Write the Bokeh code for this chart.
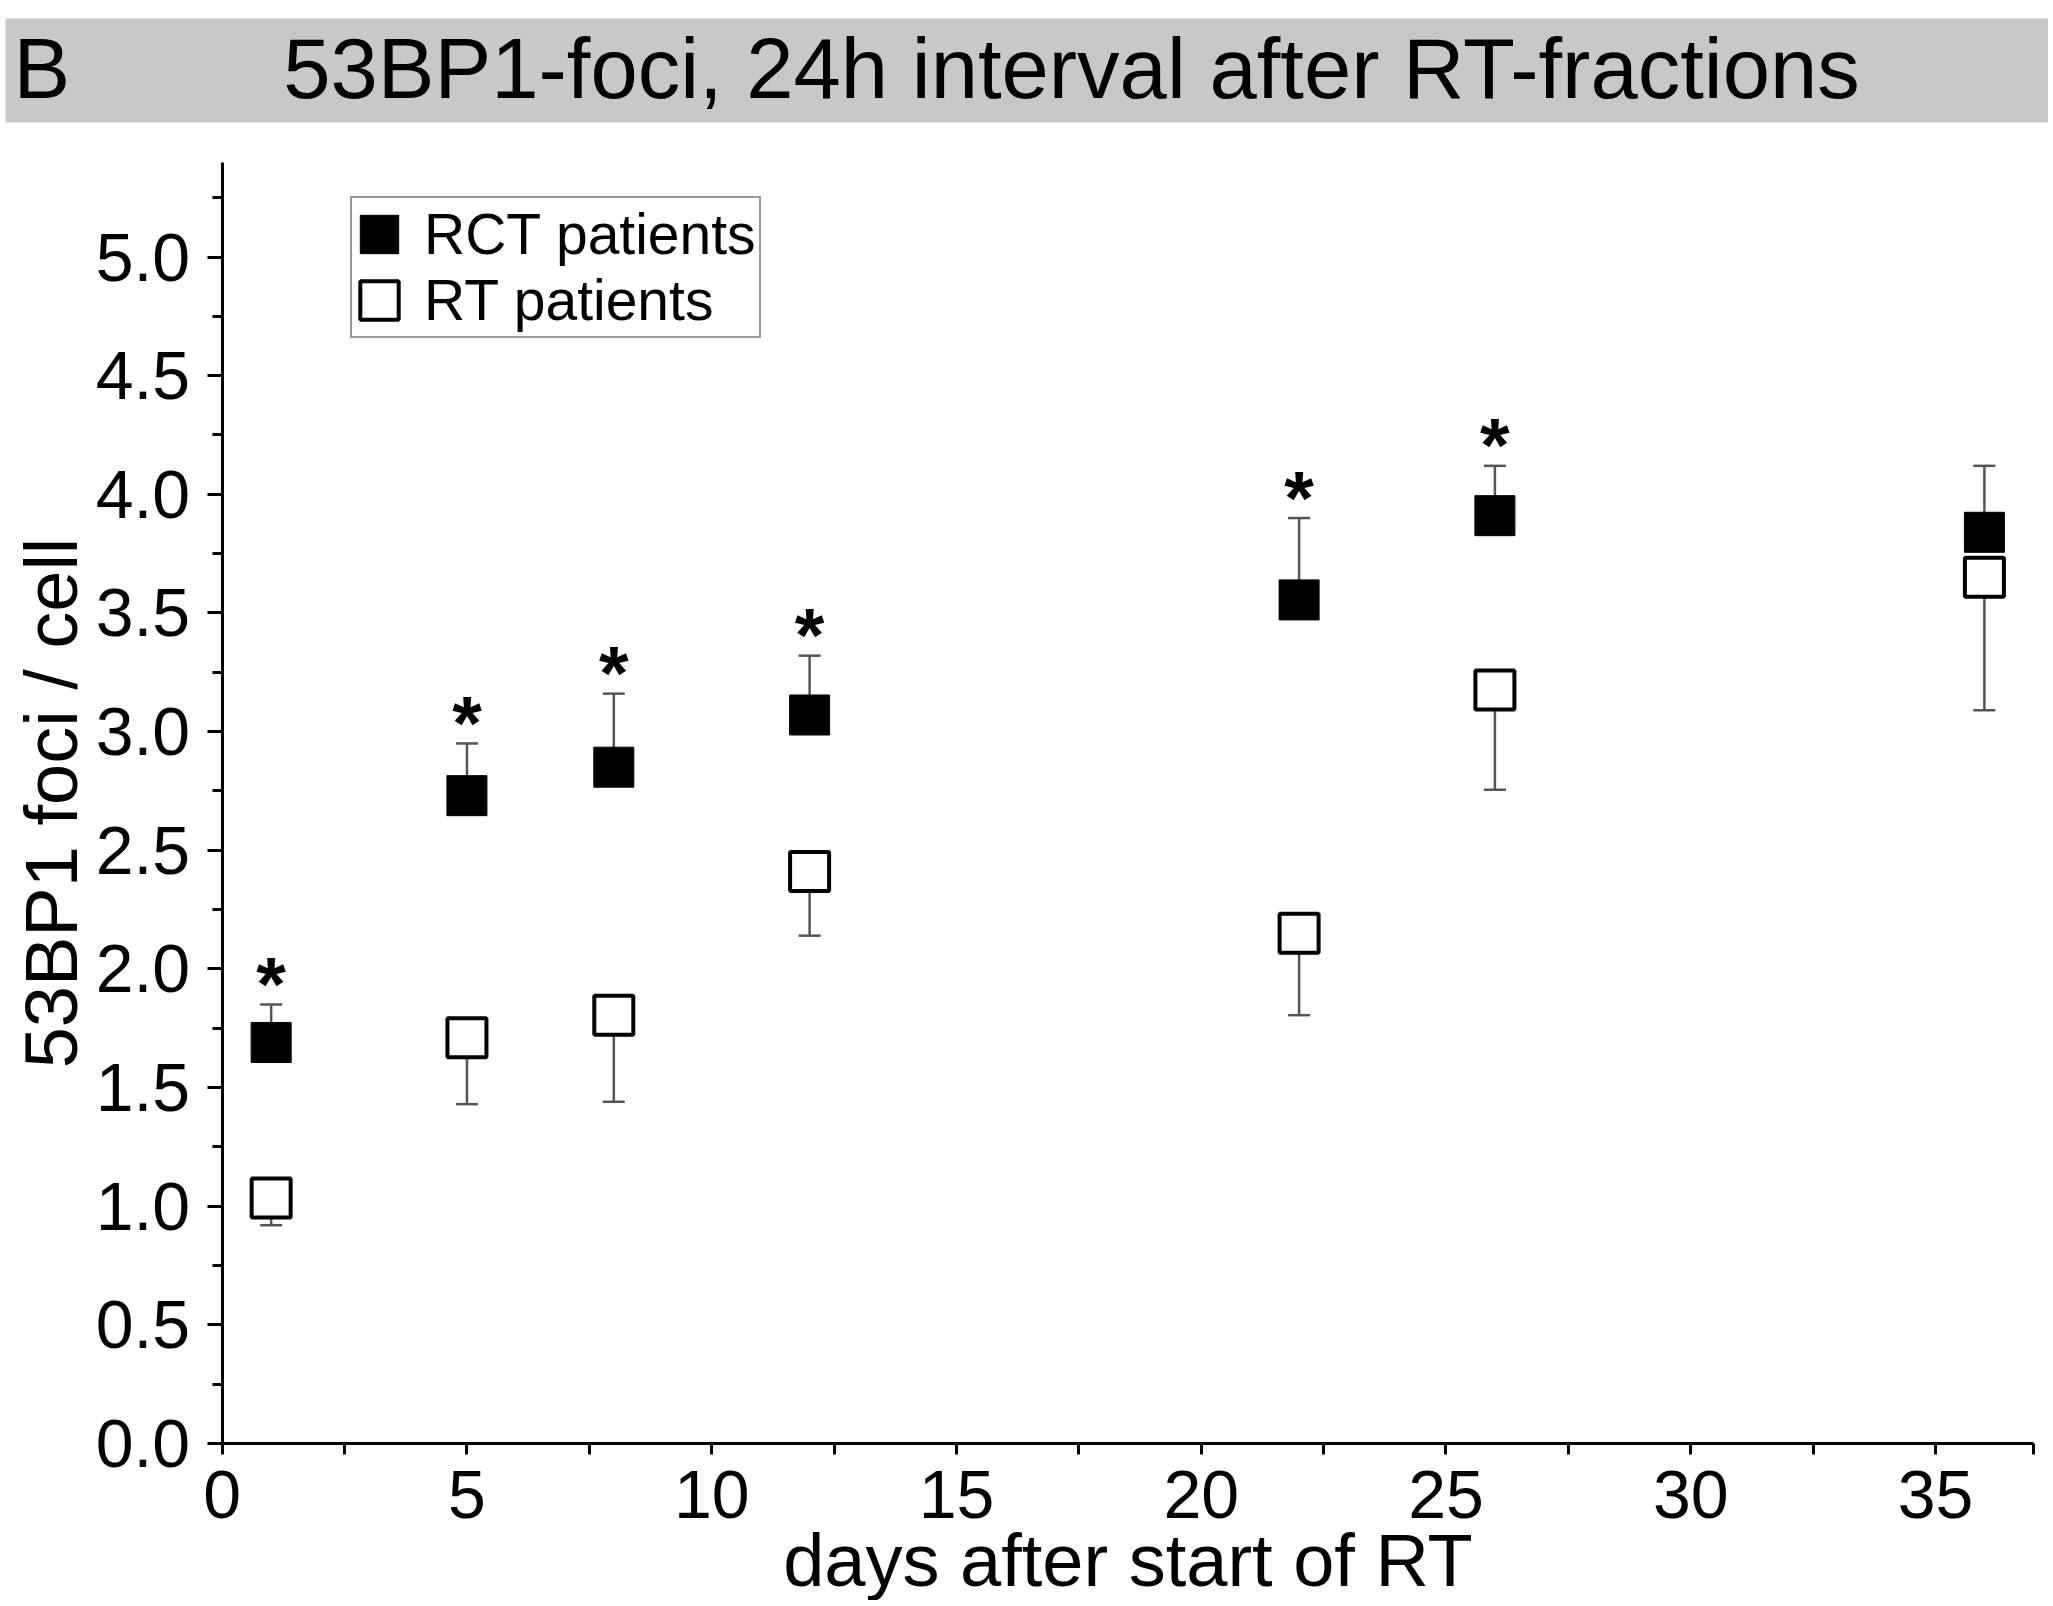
from bokeh.plotting import figure
from bokeh.models import (FixedTicker, PrintfTickFormatter, Legend, LegendItem,
                          ColumnDataSource, Label, BoxAnnotation)
from bokeh.core.properties import value
from bokeh.embed import file_html
from bokeh.resources import INLINE

# ---- data ----
days = [1, 5, 8, 12, 22, 26, 36]
rct_mean = [1.69, 2.73, 2.85, 3.07, 3.555, 3.91, 3.84]
rct_err_top = [1.85, 2.95, 3.16, 3.32, 3.90, 4.12, 4.12]
rt_mean = [1.035, 1.71, 1.805, 2.41, 2.15, 3.175, 3.65]
rt_err_bottom = [0.92, 1.43, 1.44, 2.14, 1.805, 2.755, 3.09]
significant = [True, True, True, True, True, True, False]

x_ticks = [0, 5, 10, 15, 20, 25, 30, 35]
x_minor = [2.5, 7.5, 12.5, 17.5, 22.5, 27.5, 32.5, 37]
y_ticks = [0, 0.5, 1.0, 1.5, 2.0, 2.5, 3.0, 3.5, 4.0, 4.5, 5.0]
y_minor = [0.25, 0.75, 1.25, 1.75, 2.25, 2.75, 3.25, 3.75, 4.25, 4.75, 5.25]

title_text = "53BP1-foci, 24h interval after RT-fractions"
panel_letter = "B"
x_label = "days after start of RT"
y_label = "53BP1 foci / cell"
series_names = ["RCT patients", "RT patients"]

FONT = "Liberation Sans"
X_AXIS_MIN, X_AXIS_MAX = 0, 37
Y_AXIS_MIN, Y_AXIS_MAX = 0, 5.4

# ---- page geometry (pixels) ----
W, H = 2048, 1600
X0_PX, PX_PER_X = 221.7, 48.95      # where x=0 sits, pixels per day
Y0_PX, PX_PER_Y = 1443.0, 237.3     # where y=0 sits, pixels per foci/cell


def px_x(px):
    return (px - X0_PX) / PX_PER_X


def px_y(py):
    return (Y0_PX - py) / PX_PER_Y


p = figure(width=W, height=H, x_range=(px_x(0), px_x(W)), y_range=(px_y(H), px_y(0)),
           toolbar_location=None, output_backend="svg",
           min_border_left=0, min_border_right=0, min_border_top=0, min_border_bottom=0,
           background_fill_color="white", border_fill_color="white", outline_line_color=None)
p.xgrid.visible = False
p.ygrid.visible = False

# header band with panel letter and title
p.add_layout(BoxAnnotation(left=px_x(5), bottom=px_y(122), top=px_y(18),
                           fill_color="#c8c8c8", fill_alpha=1.0, line_color=None, level="underlay"))
p.add_layout(Label(x=px_x(13), y=px_y(68), text=panel_letter, text_font=FONT,
                   text_font_size="85px", text_align="left", text_baseline="alphabetic",
                   text_color="black"))
p.add_layout(Label(x=px_x(1071), y=px_y(68), text=title_text, text_font=FONT,
                   text_font_size="85px", text_align="center", text_baseline="alphabetic",
                   text_color="black"))

for ax in (p.xaxis[0], p.yaxis[0]):
    ax.axis_line_width = 3
    ax.axis_line_color = "black"
    ax.major_tick_line_width = 3
    ax.minor_tick_line_width = 3
    ax.major_tick_line_color = "black"
    ax.minor_tick_line_color = "black"
    ax.major_tick_in = 0
    ax.minor_tick_in = 0
    ax.major_label_text_font = FONT
    ax.major_label_text_font_size = "68px"
    ax.major_label_text_color = "black"
    ax.axis_label_text_font = FONT
    ax.axis_label_text_font_size = "74px"
    ax.axis_label_text_font_style = "normal"
    ax.axis_label_text_color = "black"

p.xaxis.fixed_location = Y_AXIS_MIN
p.yaxis.fixed_location = X_AXIS_MIN
p.xaxis.bounds = (X_AXIS_MIN, X_AXIS_MAX)
p.yaxis.bounds = (Y_AXIS_MIN, Y_AXIS_MAX)
p.xaxis.ticker = FixedTicker(ticks=x_ticks, minor_ticks=x_minor)
p.yaxis.ticker = FixedTicker(ticks=y_ticks, minor_ticks=y_minor)
p.yaxis.formatter = PrintfTickFormatter(format="%.1f")
p.xaxis.major_tick_out = 11
p.xaxis.minor_tick_out = 11
p.yaxis.major_tick_out = 15
p.yaxis.minor_tick_out = 10
p.xaxis.major_label_standoff = 16
p.yaxis.major_label_standoff = 17
p.xaxis.axis_label = x_label
p.yaxis.axis_label = y_label
p.xaxis.axis_label_standoff = -2
p.yaxis.axis_label_standoff = 0

ERR = "#555555"
src_rct = ColumnDataSource(dict(x=days, y=rct_mean, e=rct_err_top))
src_rt = ColumnDataSource(dict(x=days, y=rt_mean, e=rt_err_bottom))

# error bars (one-sided)
p.segment(x0="x", y0="y", x1="x", y1="e", source=src_rct, line_color=ERR, line_width=2.5)
p.scatter(x="x", y="e", source=src_rct, marker="dash", size=22, line_color=ERR, line_width=2.5)
p.segment(x0="x", y0="y", x1="x", y1="e", source=src_rt, line_color=ERR, line_width=2.5)
p.scatter(x="x", y="e", source=src_rt, marker="dash", size=22, line_color=ERR, line_width=2.5)

# markers
r_rt = p.rect(x="x", y="y", source=src_rt, width=39, height=39, width_units="screen",
              height_units="screen", fill_color="white", line_color="black", line_width=4)
r_rct = p.rect(x="x", y="y", source=src_rct, width=40, height=40, width_units="screen",
               height_units="screen", fill_color="black", line_color="black", line_width=1)

# significance stars
sig_x = [d for d, s in zip(days, significant) if s]
sig_y = [t for t, s in zip(rct_err_top, significant) if s]
p.text(x=sig_x, y=sig_y, text=["*"] * len(sig_x), text_font=value(FONT), text_font_size="76px",
       text_font_style="bold", text_align="center", text_baseline="alphabetic",
       y_offset=-21, text_color="black")

legend = Legend(items=[LegendItem(label=series_names[0], renderers=[r_rct]),
                       LegendItem(label=series_names[1], renderers=[r_rt])],
                location=(350, H - 338), margin=0, padding=3, spacing=0,
                glyph_width=48, glyph_height=48, label_standoff=21,
                label_text_font=FONT, label_text_font_size="57px", label_text_color="black",
                border_line_color="#333333", border_line_width=2,
                background_fill_color="white", background_fill_alpha=1.0)
p.add_layout(legend)

open("out.html", "w").write(file_html(p, INLINE))
